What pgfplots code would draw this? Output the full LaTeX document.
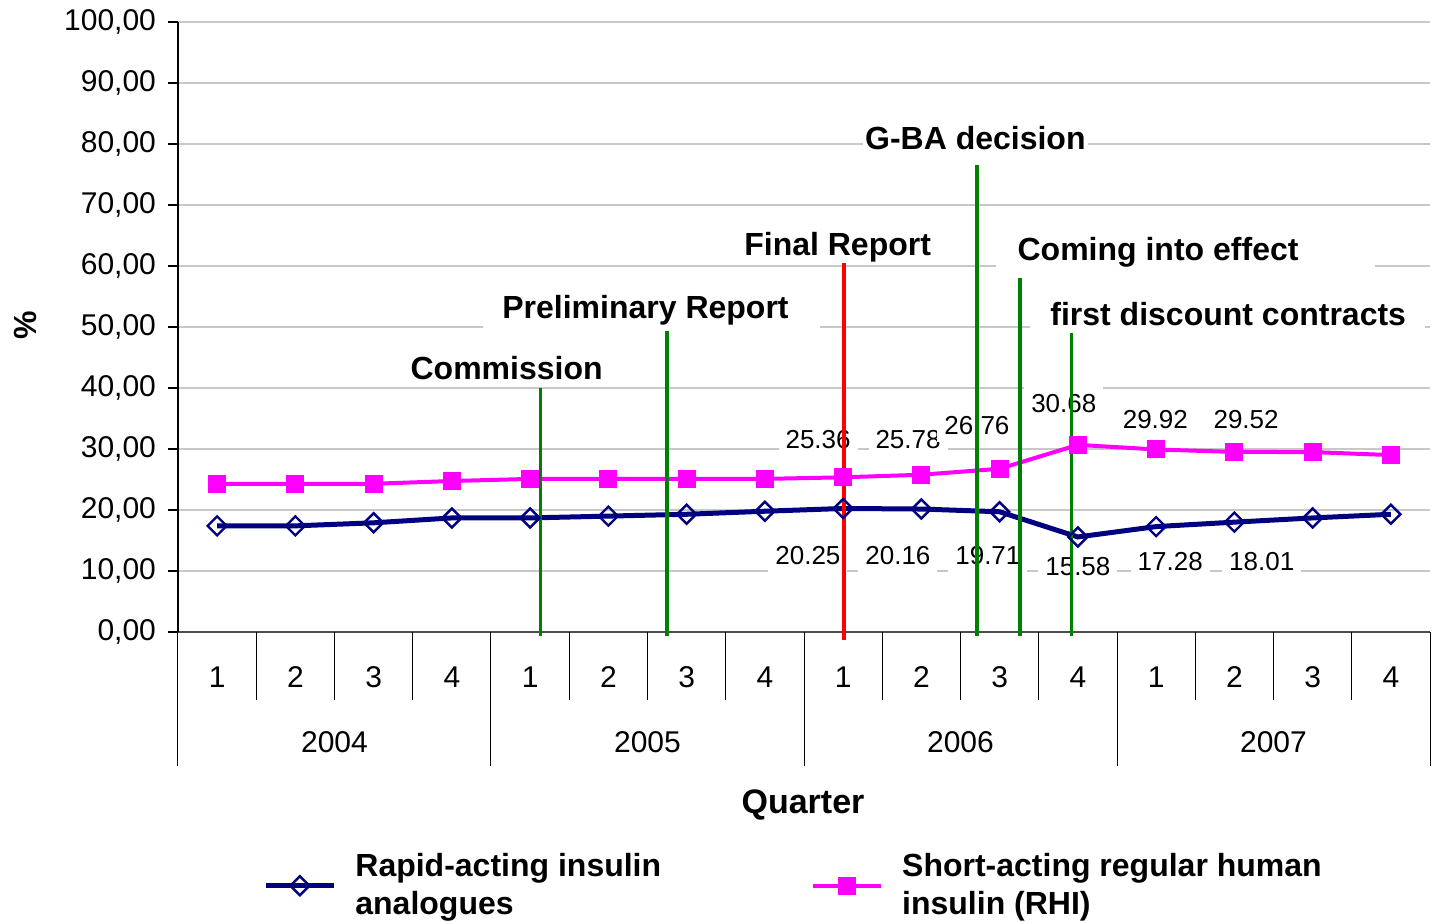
\documentclass[border=0pt]{standalone}
\usepackage{pgfplots}
\pgfplotsset{compat=1.18}
\usepackage{fontspec}
\setmainfont{Liberation Sans}
\definecolor{navyb}{HTML}{000080}
\definecolor{magp}{HTML}{FF00FF}
\definecolor{evgreen}{HTML}{008000}
\definecolor{evred}{HTML}{FF0000}
\definecolor{gridc}{HTML}{C8C8C8}
\begin{document}
\begin{tikzpicture}
\path[use as bounding box] (-89pt,-145pt) rectangle (627pt,316pt);
\begin{axis}[
  scale only axis, width=626pt, height=305pt,
  xmin=-0.5, xmax=15.5, ymin=0, ymax=100,
  axis lines=left, axis line style={-, line width=0.7pt},
  x axis line style={draw=black!70},
  ytick={0,10,...,100}, ymajorgrids, grid style={gridc, line width=0.6pt},
  ytick pos=left, tick align=outside, major tick length=5pt,
  y tick style={black, line width=0.6pt},
  yticklabel style={xshift=-2.5pt, font=\fontsize{15}{18}\selectfont, /pgf/number format/fixed, /pgf/number format/fixed zerofill, /pgf/number format/precision=2, /pgf/number format/use comma, /pgf/number format/assume math mode=true},
  xtick={0,...,15}, xticklabels={1,2,3,4,1,2,3,4,1,2,3,4,1,2,3,4},
  x tick style={draw=none},
  xticklabel style={anchor=center, yshift=-17.5pt, font=\fontsize{15}{18}\selectfont},
  clip=false,
  legend columns=2,
  legend style={at={(0.4925,-0.416)}, anchor=center, draw=none, fill=none, inner sep=0pt,
    font=\bfseries\fontsize{16}{19}\selectfont, cells={align=left},
    /tikz/every odd column/.append style={column sep=7.5pt},
    /tikz/every even column/.append style={column sep=73pt}},
  legend image code/.code={\draw[mark repeat=2,mark phase=2,#1] plot coordinates {(0pt,0pt) (17pt,0pt) (34pt,0pt)};},
]
\addplot[navyb, line width=2.5pt, mark=square, mark size=3.36pt, mark options={rotate=45, line width=1.2pt, solid}] coordinates {
 (0,17.4) (1,17.4) (2,17.9) (3,18.7) (4,18.7) (5,19.0) (6,19.3) (7,19.8)
 (8,20.25) (9,20.16) (10,19.71) (11,15.58) (12,17.28) (13,18.01) (14,18.7) (15,19.3)};
\addlegendentry{Rapid-acting insulin\\analogues}
\addplot[magp, line width=2pt, mark=square*, mark size=3.5pt, mark options={solid}] coordinates {
 (0,24.3) (1,24.3) (2,24.3) (3,24.75) (4,25.1) (5,25.1) (6,25.1) (7,25.1)
 (8,25.36) (9,25.78) (10,26.76) (11,30.68) (12,29.92) (13,29.52) (14,29.5) (15,29.0)};
\addlegendentry{Short-acting regular human\\insulin (RHI)}
% data labels
\begin{scope}[every node/.style={fill=white, inner xsep=3.5pt, inner ysep=4pt, font=\fontsize{13}{15}\selectfont}]
\node at (axis cs:7.68,31.5) {25.36};
\node at (axis cs:8.83,31.5) {25.78};
\node at (axis cs:9.71,33.9) {26.76};
\node at (axis cs:10.82,37.4) {30.68};
\node at (axis cs:11.99,34.9) {29.92};
\node at (axis cs:13.15,34.9) {29.52};
\node at (axis cs:7.55,12.6) {20.25};
\node at (axis cs:8.70,12.6) {20.16};
\node at (axis cs:9.85,12.6) {19.71};
\node at (axis cs:11.0,10.8) {15.58};
\node at (axis cs:12.18,11.6) {17.28};
\node at (axis cs:13.35,11.6) {18.01};
\end{scope}
% event lines
\addplot[evgreen, line width=1.6pt, forget plot] coordinates {(4.13,-0.7) (4.13,40)};
\addplot[evgreen, line width=1.6pt, forget plot] coordinates {(5.75,-0.7) (5.75,50)};
\addplot[evred, line width=1.6pt, forget plot] coordinates {(8.01,-1.3) (8.01,60.5)};
\addplot[evgreen, line width=1.6pt, forget plot] coordinates {(9.71,-0.7) (9.71,76.5)};
\addplot[evgreen, line width=1.6pt, forget plot] coordinates {(10.26,-0.7) (10.26,58)};
\addplot[evgreen, line width=1.6pt, forget plot] coordinates {(10.92,-0.7) (10.92,49.5)};
% annotation backgrounds
\node[fill=white, minimum width=168.5pt, minimum height=21pt, inner sep=0pt] at (axis cs:5.551,52.8) {};
\node[fill=white, minimum width=189.5pt, minimum height=21pt, inner sep=0pt] at (axis cs:12.375,62.3) {};
\node[fill=white, minimum width=197.5pt, minimum height=20pt, inner sep=0pt] at (axis cs:12.912,52.3) {};
% annotations
\begin{scope}[every node/.style={inner ysep=2pt, font=\bfseries\fontsize{16}{19}\selectfont}]
\node[inner sep=1pt] at (axis cs:3.70,43.3) {Commission};
\node[anchor=west, inner xsep=0pt] at (axis cs:3.64,52.8) {Preliminary Report};
\node[inner sep=1pt] at (axis cs:7.93,63.0) {Final Report};
\node[fill=white, inner xsep=1pt] at (axis cs:9.69,81.0) {G-BA decision};
\node[anchor=west, inner xsep=0pt] at (axis cs:10.225,62.3) {Coming into effect};
\node[anchor=west, inner xsep=0pt] at (axis cs:10.644,52.1) {first discount contracts};
\end{scope}
\end{axis}
% category separators (axis box spans 0..626pt; category width 39.125pt)
\foreach \k in {1,2,3,5,6,7,9,10,11,13,14,15} {
  \draw[black, line width=0.5pt] (\k*39.125pt,0) -- (\k*39.125pt,-34pt);
}
\foreach \k in {0,4,8,12,16} {
  \draw[black, line width=0.5pt] (\k*39.125pt,0) -- (\k*39.125pt,-67pt);
}
\foreach \k/\y in {2/2004,6/2005,10/2006,14/2007} {
  \node[font=\fontsize{15}{18}\selectfont] at (\k*39.125pt,-55pt) {\y};
}
\node[font=\bfseries\fontsize{17}{20}\selectfont] at (312.5pt,-86.5pt) {Quarter};
\node[font=\bfseries\fontsize{16}{19}\selectfont, rotate=90] at (-76.5pt,153.5pt) {\%};
\end{tikzpicture}
\end{document}
